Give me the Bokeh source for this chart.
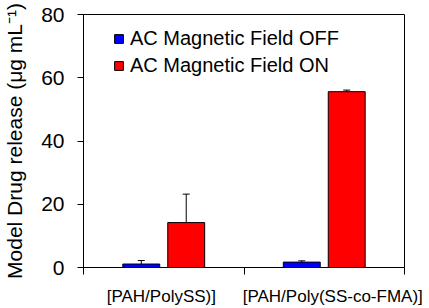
from bokeh.plotting import figure
from bokeh.models import (ColumnDataSource, Range1d, FixedTicker, Legend, LegendItem,
                          Whisker, TeeHead)
from bokeh.embed import file_html
from bokeh.resources import INLINE

categories = ["[PAH/PolySS)]", "[PAH/Poly(SS-co-FMA)]"]
series_names = ["AC Magnetic Field OFF", "AC Magnetic Field ON"]
off_values = [1.1, 1.7]
off_errors = [1.1, 0.4]
on_values = [14.2, 55.6]
on_errors = [9.0, 0.5]
y_ticks = [0, 20, 40, 60, 80]
y_title = "Model Drug release (\u03bcg mL\u207b\u00b9)"

FONT = "Liberation Sans"
BAR_W = 0.23
OFFSET = 0.14
LABEL_SHIFT = [-0.015, 0.053]   # small horizontal nudges of the category labels

p = figure(width=429, height=308, output_backend="svg", toolbar_location=None,
           x_range=Range1d(0, len(categories)), y_range=Range1d(0, 80),
           min_border_left=82, min_border_right=25, min_border_top=14, min_border_bottom=41)
p.background_fill_color = "white"
p.border_fill_color = "white"
p.outline_line_color = "black"
p.outline_line_width = 1
p.xgrid.visible = False
p.ygrid.visible = False

centers = [i + 0.5 for i in range(len(categories))]
x_off = [c - OFFSET for c in centers]
x_on = [c + OFFSET for c in centers]
label_pos = [c + s for c, s in zip(centers, LABEL_SHIFT)]

src_off = ColumnDataSource(dict(x=x_off, top=off_values,
                                lo=[v - e for v, e in zip(off_values, off_errors)],
                                hi=[v + e for v, e in zip(off_values, off_errors)]))
src_on = ColumnDataSource(dict(x=x_on, top=on_values,
                               lo=[v - e for v, e in zip(on_values, on_errors)],
                               hi=[v + e for v, e in zip(on_values, on_errors)]))

r_off = p.vbar(x="x", top="top", width=BAR_W, bottom=0, source=src_off,
               fill_color="#0000FF", line_color="black", line_width=1)
r_on = p.vbar(x="x", top="top", width=BAR_W, bottom=0, source=src_on,
              fill_color="#FF0000", line_color="black", line_width=1)

for src in (src_off, src_on):
    w = Whisker(source=src, base="x", lower="lo", upper="hi", line_color="black", line_width=1,
                upper_head=TeeHead(size=7, line_color="black", line_width=1),
                lower_head=TeeHead(size=7, line_color="black", line_width=1))
    p.add_layout(w)

# y axis
p.yaxis.ticker = FixedTicker(ticks=y_ticks)
p.yaxis.minor_tick_line_color = None
p.yaxis.major_tick_out = 6
p.yaxis.major_tick_in = 0
p.yaxis.major_label_standoff = 13
p.yaxis.major_label_text_font = FONT
p.yaxis.major_label_text_font_size = "21px"
p.yaxis.major_label_text_color = "black"
p.yaxis.axis_line_color = "black"
p.yaxis.axis_label = y_title
p.yaxis.axis_label_text_font = FONT
p.yaxis.axis_label_text_font_size = "21px"
p.yaxis.axis_label_text_font_style = "normal"
p.yaxis.axis_label_text_color = "black"
p.yaxis.axis_label_standoff = 12

# x axis: labels near category centres, boundary ticks as minor ticks
p.xaxis.ticker = FixedTicker(ticks=label_pos, minor_ticks=list(range(len(categories) + 1)))
p.xaxis.major_tick_out = 0
p.xaxis.major_tick_in = 0
p.xaxis.major_tick_line_color = None
p.xaxis.minor_tick_out = 7
p.xaxis.minor_tick_in = 0
p.xaxis.minor_tick_line_color = "black"
p.xaxis.major_label_overrides = {c: t for c, t in zip(label_pos, categories)}
p.xaxis.major_label_text_font = FONT
p.xaxis.major_label_text_font_size = "17px"
p.xaxis.major_label_text_color = "black"
p.xaxis.major_label_standoff = 12
p.xaxis.axis_line_color = "black"

legend = Legend(items=[LegendItem(label=series_names[0], renderers=[r_off]),
                       LegendItem(label=series_names[1], renderers=[r_on])],
                location=(30, 190), padding=0, margin=0, spacing=4,
                glyph_width=11, glyph_height=11, label_height=20, label_standoff=6,
                label_text_font=FONT, label_text_font_size="20px", label_text_color="black",
                border_line_color=None, background_fill_alpha=0)
p.add_layout(legend)

open("out.html", "w").write(file_html(p, INLINE))
